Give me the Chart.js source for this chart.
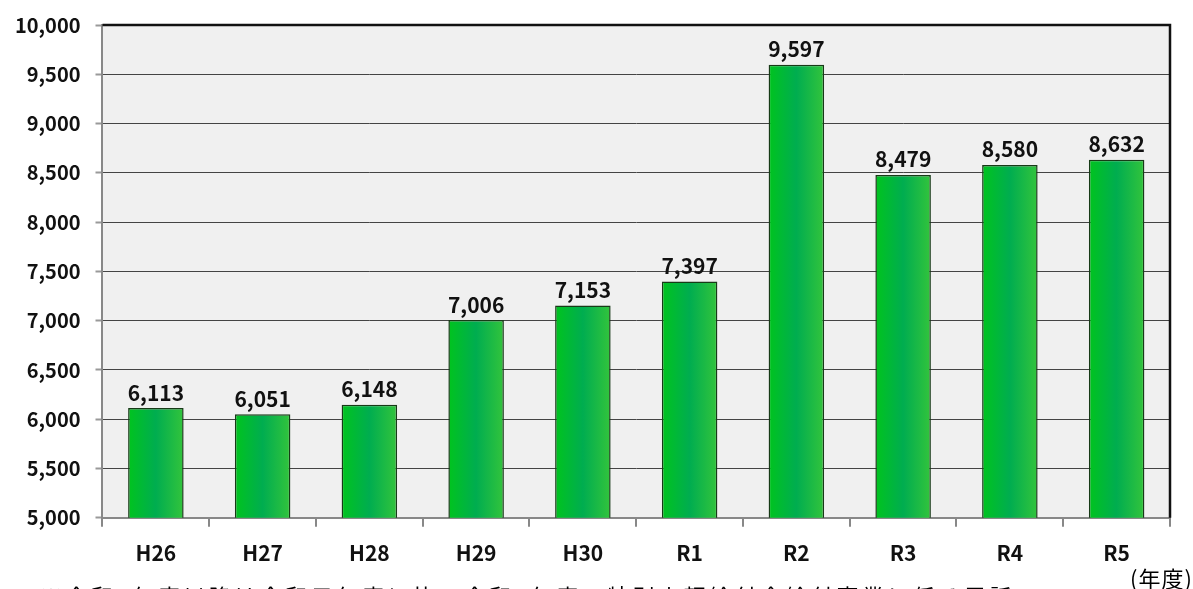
<!DOCTYPE html>
<html lang="ja">
<head>
<meta charset="utf-8">
<script src="https://cdn.jsdelivr.net/npm/chart.js@4.4.1/dist/chart.umd.min.js"></script>
<style>
    html, body { margin: 0; padding: 0; background: #fff; overflow: hidden; }
    #wrap { position: relative; width: 1193px; height: 589px; overflow: hidden; }
    #unit { position: absolute; left: 1130px; top: 561px; font: 22px "Noto Sans CJK JP", sans-serif; letter-spacing: 1px; color: #000; white-space: nowrap; }
    #note { position: absolute; left: 40px; top: 579px; font: 22px "Noto Sans CJK JP", sans-serif; color: #000; white-space: nowrap; letter-spacing: 3.5px; }
</style>
</head>
<body>
<div id="wrap">
    <canvas id="chart" width="1193" height="589"></canvas>
    <div id="unit">(年度)</div>
    <div id="note">※令和2年度以降は令和元年度に比べ令和2年度の特別定額給付金給付事業に係る電話</div>
</div>
<script>
const years = ["H26", "H27", "H28", "H29", "H30", "R1", "R2", "R3", "R4", "R5"];
const counts = [6113, 6051, 6148, 7006, 7153, 7397, 9597, 8479, 8580, 8632];
const yMin = 5000;
const yMax = 10000;
const yStep = 500;

const barPct = 0.52;
const fontFamily = "'Noto Sans CJK JP', 'Noto Sans', sans-serif";

// horizontal green gradient per bar
function barGradient( context ) {
    const chart = context.chart;
    if ( !chart.chartArea ) return "#00b050";
    const x = chart.scales.x;
    const cx = x.getPixelForValue( context.dataIndex );
    const half = ( x.width / years.length ) * barPct / 2;
    const g = chart.ctx.createLinearGradient( cx - half, 0, cx + half, 0 );
    g.addColorStop( 0, "#00c41e" );
    g.addColorStop( 0.5, "#00ad50" );
    g.addColorStop( 1, "#33c43c" );
    return g;
}

const valueLabels = {
    id: "valueLabels",
    afterDatasetsDraw( chart ) {
        const ctx = chart.ctx;
        const meta = chart.getDatasetMeta( 0 );
        ctx.save();
        ctx.font = "bold 21px " + fontFamily;
        ctx.fillStyle = "#111";
        ctx.textAlign = "center";
        ctx.textBaseline = "bottom";
        meta.data.forEach( ( bar, i ) => {
            ctx.fillText( counts[i].toLocaleString( "en-US" ), bar.x, bar.y - 5 );
        } );
        ctx.restore();
    }
};

const plotFrame = {
    id: "plotFrame",
    beforeDraw( chart ) {
        const a = chart.chartArea;
        const ctx = chart.ctx;
        ctx.save();
        ctx.fillStyle = "#f0f0f0";
        ctx.fillRect( a.left, a.top, a.right - a.left, a.bottom - a.top );
        ctx.restore();
    },
    afterDraw( chart ) {
        const a = chart.chartArea;
        const ctx = chart.ctx;
        ctx.save();
        ctx.strokeStyle = "#111";
        ctx.lineWidth = 2.5;
        ctx.beginPath();
        ctx.moveTo( a.left, a.top );
        ctx.lineTo( a.right, a.top );
        ctx.lineTo( a.right, a.bottom );
        ctx.stroke();
        ctx.restore();
    }
};

new Chart( document.getElementById( "chart" ), {
    type: "bar",
    data: {
        labels: years,
        datasets: [{
            data: counts,
            backgroundColor: barGradient,
            borderColor: "#173a17",
            borderWidth: 1.5,
            borderSkipped: false,
            barPercentage: barPct,
            categoryPercentage: 1
        }]
    },
    options: {
        responsive: false,
        animation: false,
        devicePixelRatio: 1,
        layout: { padding: { top: 4, right: 23, left: 0, bottom: 9 } },
        plugins: {
            legend: { display: false },
            tooltip: { enabled: false }
        },
        scales: {
            x: {
                grid: {
                    drawOnChartArea: false,
                    offset: true,
                    tickLength: 9,
                    color: "#888",
                    lineWidth: 2
                },
                border: { color: "#888", width: 2 },
                ticks: {
                    color: "#111",
                    padding: 14,
                    font: { family: fontFamily, size: 21, weight: "bold" }
                }
            },
            y: {
                min: yMin,
                max: yMax,
                grid: {
                    color: "#444",
                    lineWidth: 1,
                    tickLength: 7,
                    tickColor: "#999",
                    tickWidth: 2
                },
                border: { color: "#888", width: 2 },
                ticks: {
                    stepSize: yStep,
                    color: "#111",
                    padding: 15,
                    font: { family: fontFamily, size: 20, weight: "bold", lineHeight: 1 },
                    callback: v => v.toLocaleString( "en-US" )
                }
            }
        }
    },
    plugins: [plotFrame, valueLabels]
} );
</script>
</body>
</html>
